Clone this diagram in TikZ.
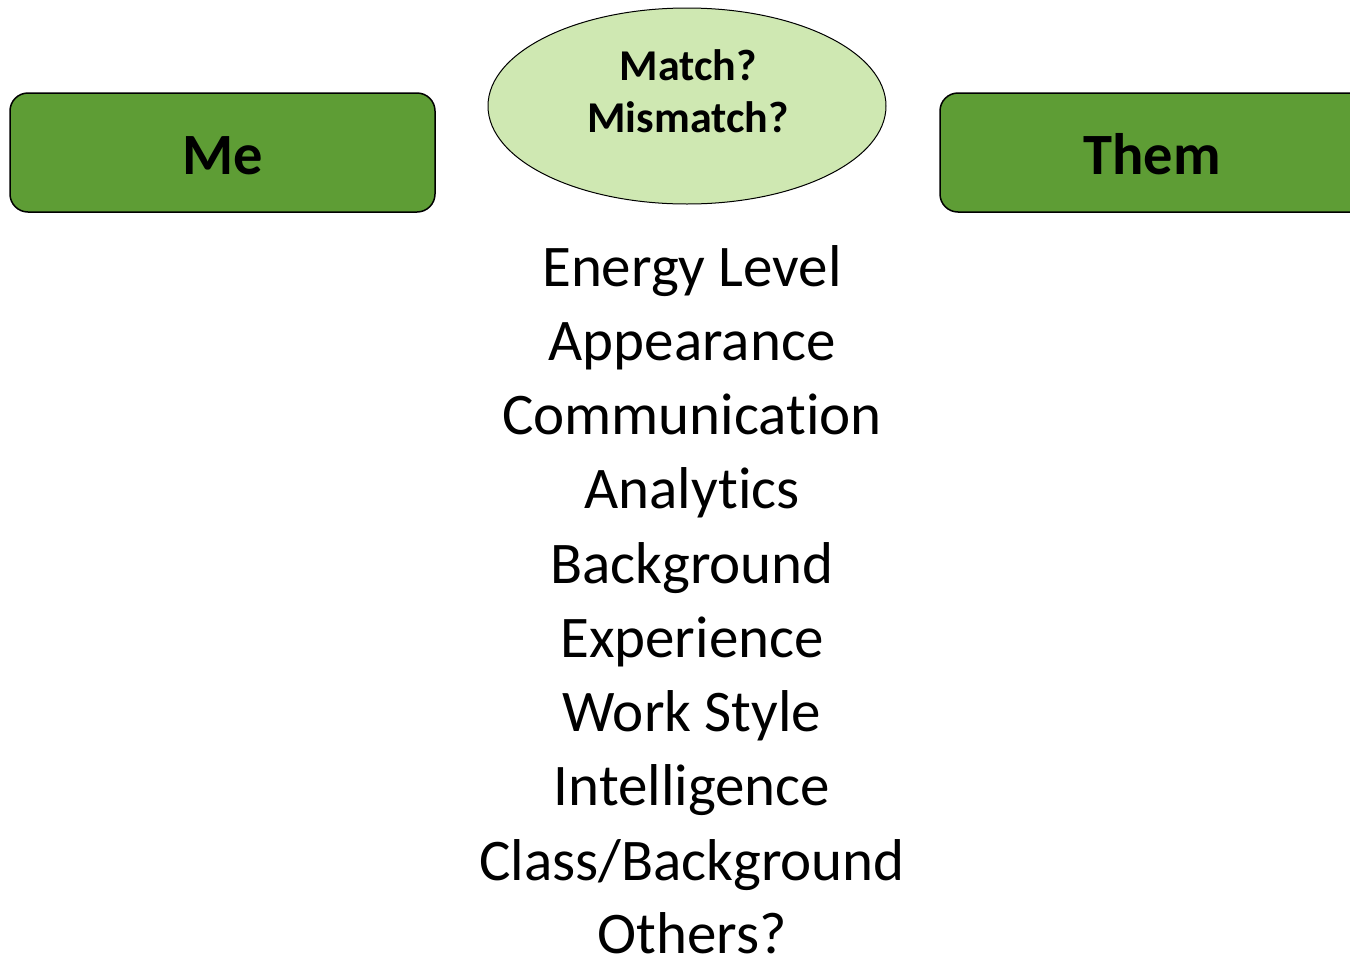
\documentclass[tikz,border=0pt]{standalone}
\usepackage{fontspec}
\setmainfont[Ligatures={NoCommon}]{Carlito}
\usetikzlibrary{shapes.geometric}
\definecolor{boxgreen}{RGB}{94,157,53}
\definecolor{ovalgreen}{RGB}{207,232,178}
\tikzset{
  greenbox/.style={draw=black, line width=1.5pt, fill=boxgreen, rounded corners=18pt},
  ovalshape/.style={draw=black, line width=1pt, fill=ovalgreen},
  bigbold/.style={font=\fontsize{58.5}{62}\selectfont\bfseries, anchor=base, inner sep=0pt},
  ovaltext/.style={font=\fontsize{44}{48}\selectfont\bfseries, anchor=base, inner sep=0pt},
  listtext/.style={font=\fontsize{59}{66}\selectfont, anchor=base, inner sep=0pt}
}
\begin{document}
\begin{tikzpicture}[x=1pt,y=-1pt]
\useasboundingbox (0,0) rectangle (1350,956);
\clip (0,0) rectangle (1350,956);
\draw[greenbox] (10,93) rectangle (435,212);
\draw[greenbox] (940,93) rectangle (1370,212);
\draw[ovalshape] (687,106) ellipse [x radius=199, y radius=98];
\node[bigbold] (me) at (223,174) {Me};
\node[bigbold] (them) at (1152,174) {Them};
\node[ovaltext] (m1) at (688,80) {Match?};
\node[ovaltext] (m2) at (688,132) {Mismatch?};
\node[listtext] (l1) at (692,286) {Energy Level};
\node[listtext] (l2) at (692,360) {Appearance};
\node[listtext] (l3) at (692,434) {Communication};
\node[listtext] (l4) at (692,508) {Analytics};
\node[listtext] (l5) at (692,583) {Background};
\node[listtext] (l6) at (692,657) {Experience};
\node[listtext] (l7) at (692,731) {Work Style};
\node[listtext] (l8) at (692,805) {Intelligence};
\node[listtext] (l9) at (692,880) {Class/Background};
\node[listtext] (l10) at (692,953) {Others?};
\end{tikzpicture}
\end{document}
